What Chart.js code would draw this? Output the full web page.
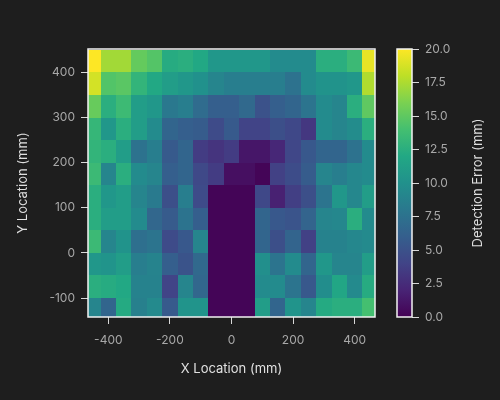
<!DOCTYPE html>
<html>
<head>
<meta charset="utf-8">
<script src="https://cdn.jsdelivr.net/npm/chart.js@4.4.1/dist/chart.umd.min.js"></script>
<style>
html, body { margin: 0; padding: 0; background: #1e1e1e; }
#wrap { position: relative; width: 500px; height: 400px; }
#wrap canvas { position: absolute; left: 0; top: 0; }
</style>
</head>
<body>
<div id="wrap">
<canvas id="heat" width="500" height="400"></canvas>
<canvas id="cbar" width="500" height="400"></canvas>
</div>
<script>
// GRID POSITIONS (mm)
const xCenters = [-450, -400, -350, -300, -250, -200, -150, -100, -50, 0, 50, 100, 150, 200, 250, 300, 350, 400, 450];
const yCenters = [425, 375, 325, 275, 225, 175, 125, 75, 25, -25, -75, -125];
const xTicks = [-400, -200, 0, 200, 400];
const yTicks = [-100, 0, 100, 200, 300, 400];
const cbTicks = [0, 2.5, 5, 7.5, 10, 12.5, 15, 17.5, 20];

// DETECTION ERROR (mm), one array per row, top to bottom
const row425 = [20, 17.2, 17.2, 15.2, 14.6, 12.3, 12.5, 12, 10.5, 10.5, 10.5, 10.5, 9.5, 9.5, 9.5, 12.5, 12.5, 13.5, 19.3];
const row375 = [18.7, 14.5, 14.8, 13, 12, 11, 10.5, 10, 9, 8.5, 8.5, 8.5, 8.5, 7.5, 9.5, 10.2, 10.2, 10.5, 17.6];
const row325 = [15.3, 12.5, 13.6, 11, 10.5, 8, 8.5, 7, 6, 6, 6.8, 5, 6, 6.5, 7.7, 9.5, 9, 12.5, 15];
const row275 = [13.2, 10.5, 12.5, 11, 9.5, 6.5, 6, 5.8, 4.5, 5.6, 4, 4, 4.8, 4.3, 3.2, 9.5, 9, 9.6, 12.5];
const row225 = [13, 12.5, 11, 7.5, 8.5, 5.6, 6.5, 3.5, 3, 3.5, 1.2, 1.2, 2.2, 4.2, 5.5, 6.5, 6.5, 7.5, 9.5];
const row175 = [13.5, 9, 12.5, 9.5, 9, 6, 6.5, 4.4, 3.5, 0.8, 0.8, 0.2, 3.8, 4.6, 5.8, 9, 8.5, 9.2, 9.5];
const row125 = [12.5, 10.5, 11, 9, 8.2, 4.8, 8.5, 4.5, 0.2, 0.2, 0.2, 4.3, 1.8, 3.7, 4.8, 7.7, 10.5, 9.2, 11];
const row75 = [12.5, 11, 11, 9.5, 6.6, 5.7, 7.6, 6, 0.2, 0.2, 0.2, 6.5, 5.5, 5.2, 6.4, 9, 9.2, 12.5, 9.5];
const row25 = [13.5, 9, 10.2, 7.3, 7.7, 4.5, 5.5, 9, 0.2, 0.2, 0.2, 6.5, 4.8, 6.4, 3.8, 8.8, 8.8, 9.2, 9.4];
const rowM25 = [10.5, 10.3, 11, 8.5, 8.9, 6, 5.1, 6.8, 0.2, 0.2, 0.2, 9.8, 7.7, 9.5, 6.5, 10.5, 9, 9, 11];
const rowM75 = [12.5, 12.3, 12, 8.8, 8.8, 4, 9, 6.6, 0.2, 0.2, 0.2, 9.5, 9.5, 7.7, 5.5, 9.7, 11.8, 9.4, 12.3];
const rowM125 = [9, 6.5, 12.2, 8.6, 9.4, 5.6, 10.3, 10.3, 0.2, 0.2, 0.2, 11, 6.5, 10.3, 9, 12.2, 12.5, 12.5, 14];
const grid = [row425, row375, row325, row275, row225, row175, row125, row75, row25, rowM25, rowM75, rowM125];

const vmin = 0, vmax = 20, cell = 50;

// VIRIDIS
const viridis = ['#440154', '#482475', '#414487', '#355f8d', '#2a788e', '#21918c',
  '#22a884', '#44bf70', '#7ad151', '#bddf26', '#fde725'];
function hex(h) { return [1, 3, 5].map(i => parseInt(h.substr(i, 2), 16)); }
function colorFor(v) {
  let t = Math.min(1, Math.max(0, (v - vmin) / (vmax - vmin))) * (viridis.length - 1);
  let i = Math.min(viridis.length - 2, Math.floor(t));
  let f = t - i, a = hex(viridis[i]), b = hex(viridis[i + 1]);
  return 'rgb(' + a.map((c, k) => Math.round(c + (b[k] - c) * f)).join(',') + ')';
}

Chart.defaults.font.family = 'Inter';
Chart.defaults.color = '#a8a8a8';

const tickColor = '#a8a8a8';
const titleColor = '#e0e0e0';

// HEATMAP CELLS
const heatPlugin = {
  id: 'heat',
  beforeDatasetsDraw(chart) {
    const {ctx, chartArea: a, scales: {x, y}} = chart;
    ctx.save();
    ctx.beginPath();
    ctx.rect(a.left, a.top, a.width, a.height);
    ctx.clip();
    grid.forEach((row, i) => {
      row.forEach((v, j) => {
        let x0 = Math.round(x.getPixelForValue(xCenters[j] - cell / 2));
        let x1 = Math.round(x.getPixelForValue(xCenters[j] + cell / 2));
        let y0 = Math.round(y.getPixelForValue(yCenters[i] + cell / 2));
        let y1 = Math.round(y.getPixelForValue(yCenters[i] - cell / 2));
        ctx.fillStyle = colorFor(v);
        ctx.fillRect(x0, y0, x1 - x0, y1 - y0);
      });
    });
    ctx.restore();
  },
  afterDatasetsDraw(chart) {
    const {ctx, chartArea: a} = chart;
    ctx.save();
    ctx.strokeStyle = '#f2f2f2';
    ctx.lineWidth = 1.5;
    ctx.strokeRect(a.left, a.top, a.width, a.height);
    ctx.restore();
  }
};

let heatChart = new Chart(document.getElementById('heat'), {
  type: 'scatter',
  data: {
    datasets: [{
      data: yCenters.flatMap(yv => xCenters.map(xv => ({x: xv, y: yv}))),
      pointRadius: 0
    }]
  },
  options: {
    responsive: false,
    animation: false,
    devicePixelRatio: 1,
    layout: { padding: { left: 0, right: 125, top: 49, bottom: 0 } },
    plugins: { legend: { display: false }, tooltip: { enabled: false } },
    scales: {
      x: {
        type: 'linear', min: -466, max: 466,
        afterBuildTicks: s => { s.ticks = xTicks.map(v => ({value: v})); },
        afterFit: s => { s.height = 83; },
        grid: { drawOnChartArea: false, drawTicks: true, tickLength: 7, color: '#d8d8d8' },
        border: { display: false },
        ticks: { color: tickColor, font: { size: 12 }, padding: 9, maxRotation: 0 },
        title: { display: true, text: 'X Location (mm)', color: titleColor, font: { size: 13 }, padding: { top: 0, bottom: 23 } }
      },
      y: {
        type: 'linear', min: -142, max: 452,
        afterBuildTicks: s => { s.ticks = yTicks.map(v => ({value: v})); },
        afterFit: s => { s.width = 88; },
        grid: { drawOnChartArea: false, drawTicks: true, tickLength: 7, color: '#d8d8d8' },
        border: { display: false },
        ticks: { color: tickColor, font: { size: 12 }, padding: 6 },
        title: { display: true, text: 'Y Location (mm)', color: titleColor, font: { size: 13 }, padding: { top: 15, bottom: 0 } }
      }
    }
  },
  plugins: [heatPlugin]
});

// COLORBAR
const cbarPlugin = {
  id: 'cbar',
  beforeDatasetsDraw(chart) {
    const {ctx, chartArea: a, scales: {y}} = chart;
    let g = ctx.createLinearGradient(0, y.getPixelForValue(vmin), 0, y.getPixelForValue(vmax));
    viridis.forEach((c, i) => g.addColorStop(i / (viridis.length - 1), c));
    ctx.save();
    ctx.fillStyle = g;
    ctx.fillRect(a.left, a.top, a.width, a.height);
    ctx.strokeStyle = '#f2f2f2';
    ctx.lineWidth = 1.5;
    ctx.strokeRect(a.left, a.top, a.width, a.height);
    ctx.restore();
  },
  afterDraw(chart) {
    const {ctx, chartArea: a} = chart;
    ctx.save();
    ctx.translate(478, (a.top + a.bottom) / 2);
    ctx.rotate(-Math.PI / 2);
    ctx.fillStyle = titleColor;
    ctx.font = '13px Inter';
    ctx.textAlign = 'center';
    ctx.textBaseline = 'middle';
    ctx.fillText('Detection Error (mm)', 0, 0);
    ctx.restore();
  }
};

let barChart = new Chart(document.getElementById('cbar'), {
  type: 'scatter',
  data: { datasets: [{ data: [] }] },
  options: {
    responsive: false,
    animation: false,
    devicePixelRatio: 1,
    layout: { padding: { left: 397, right: 0, top: 49, bottom: 83 } },
    plugins: { legend: { display: false }, tooltip: { enabled: false } },
    scales: {
      x: { display: false },
      y: {
        type: 'linear', position: 'right', min: vmin, max: vmax,
        afterBuildTicks: s => { s.ticks = cbTicks.map(v => ({value: v})); },
        afterFit: s => { s.width = 88; },
        grid: { drawOnChartArea: false, drawTicks: true, tickLength: 7, color: '#d8d8d8' },
        border: { display: false },
        ticks: { color: tickColor, font: { size: 12 }, padding: 6, callback: v => v.toFixed(1) }
      }
    }
  },
  plugins: [cbarPlugin]
});
</script>
</body>
</html>
